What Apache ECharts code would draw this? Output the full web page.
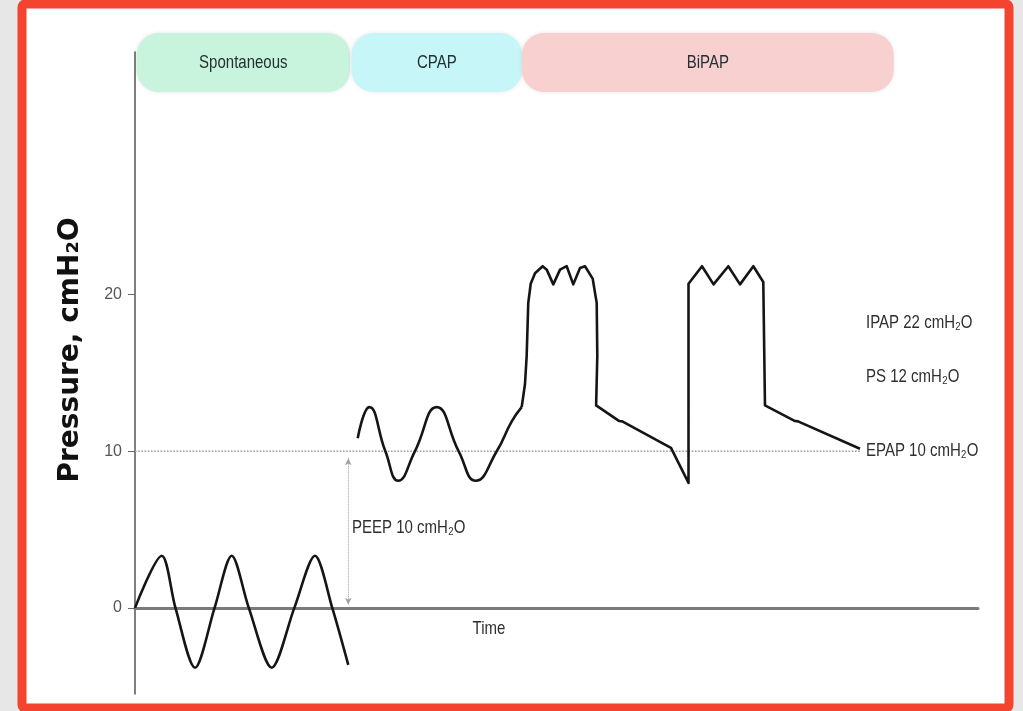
<!DOCTYPE html>
<html><head><meta charset="utf-8">
<script src="https://cdn.jsdelivr.net/npm/echarts@6/dist/echarts.min.js"></script>
<style>html,body{margin:0;padding:0;background:#e7e7e7;}#c{width:1023px;height:711px;}</style>
</head><body><div id="c"></div>
<script>
// ---- data (time in s, pressure in cmH2O) ----
const phases = ['Spontaneous', 'CPAP', 'BiPAP'];
const phaseStart = [0.02, 2.57, 4.59];
const phaseEnd = [2.55, 4.59, 9.0];
const phaseColors = ['#c8f3dc', '#c7f6f9', '#f8d0d0'];
const yTicks = [0, 10, 20];
const spontaneous = [[0,0],[0.317,3.33],[0.48,0],[0.712,-3.82],[0.944,0],[1.147,3.33],[1.35,0],[1.622,-3.82],[1.89,0],[2.135,3.33],[2.34,0],[2.53,-3.64]];
const cpap = [[2.642,10.83],[2.779,12.82],[2.97,10],[3.123,8.12],[3.32,10],[3.579,12.82],[3.84,10],[4.042,8.12],[4.291,10],[4.469,11.91],[4.587,12.82]];
const bipap = [[4.587,12.82],[4.626,14.28],[4.646,16.08],[4.665,19.46],[4.694,20.70],[4.745,21.37],[4.836,21.82],[4.884,21.60],[4.962,20.66],[5.042,21.60],[5.121,21.82],[5.199,20.66],[5.279,21.71],[5.338,21.82],[5.429,21.03],[5.477,19.46],[5.484,16.08],[5.47,12.93],[5.745,11.93],[5.78,11.91],[5.765,11.80],[6.358,10.22],[6.566,7.98],[6.566,20.70],[6.726,21.82],[6.863,20.66],[7.038,21.82],[7.177,20.66],[7.335,21.82],[7.453,20.81],[7.473,12.93],[7.83,11.93],[7.865,11.91],[7.85,11.80],[8.600,10.16]];
const baseline = [[0,10],[8.6,10]];
const peepArrow = [[2.53,9.55],[2.53,0.2]];
const annotations = ['IPAP 22 cmH₂O', 'PS 12 cmH₂O', 'EPAP 10 cmH₂O', 'PEEP 10 cmH₂O'];

const SANS = '"Liberation Sans",Arial,sans-serif';
const chart = echarts.init(document.getElementById('c'));
const waveStyle = {color: '#151515', width: 2.6};
chart.setOption({
  animation: false,
  backgroundColor: '#e7e7e7',
  grid: {left: 135, right: 45, top: 52, bottom: 17},
  xAxis: {type: 'value', min: 0, max: 10,
    axisLine: {onZero: true, lineStyle: {color: '#7a7a7a', width: 3}},
    axisTick: {show: false}, axisLabel: {show: false}, splitLine: {show: false}},
  yAxis: {type: 'value', min: -5.5, max: 35.5,
    axisLine: {show: true, lineStyle: {color: '#555', width: 1.5}},
    axisTick: {show: true, customValues: yTicks, length: 7, lineStyle: {color: '#666'}},
    axisLabel: {customValues: yTicks, fontSize: 16, color: '#555', margin: 13, fontFamily: SANS},
    splitLine: {show: false}},
  series: [
    {type: 'line', data: baseline, symbol: 'none', z: 1,
      lineStyle: {color: '#9a9a9a', width: 1.6, type: 'dotted'},
      markLine: {silent: true, symbol: ['arrow', 'arrow'], symbolSize: [5, 7],
        lineStyle: {color: '#a0a0a0', width: 1, type: 'dotted'}, label: {show: false},
        data: [[{coord: peepArrow[0]}, {coord: peepArrow[1]}]]}},
    {type: 'line', data: spontaneous, symbol: 'none', smooth: 0.3, lineStyle: waveStyle},
    {type: 'line', data: cpap, symbol: 'none', smooth: 0.5, lineStyle: waveStyle},
    {type: 'line', data: bipap, symbol: 'none', smooth: false, lineStyle: Object.assign({join: 'round'}, waveStyle)}
  ]
});

const g = [];
g.push({type: 'rect', z: -100, shape: {x: 22, y: 4, width: 987, height: 704, r: 3},
  style: {fill: '#ffffff', stroke: '#f4432f', lineWidth: 9}});
function narrowText(t, x, y, align, size, color) {
  return {type: 'text', z: 6, x: x, y: y, scaleX: 0.79,
    style: {text: t, fill: color || '#2f2f2f', font: size + 'px ' + SANS, textAlign: align, textVerticalAlign: 'middle'}};
}
phases.forEach((p, i) => {
  const x0 = chart.convertToPixel({gridIndex: 0}, [phaseStart[i], 0])[0];
  const x1 = chart.convertToPixel({gridIndex: 0}, [phaseEnd[i], 0])[0];
  g.push({type: 'rect', z: 5, shape: {x: x0, y: 33, width: x1 - x0, height: 59, r: 22},
    style: {fill: phaseColors[i], shadowBlur: 4, shadowColor: 'rgba(0,0,0,0.10)'}});
  g.push(narrowText(p, (x0 + x1) / 2, 63, 'center', 19, '#223232'));
});
g.push({type: 'text', z: 6, x: 71, y: 350, rotation: Math.PI / 2,
  style: {text: 'Pressure, cmH₂O', fill: '#111', font: 'bold 28px "DejaVu Sans",sans-serif', textAlign: 'center', textVerticalAlign: 'middle'}});
g.push(narrowText('Time', 489, 629, 'center', 19));
const annPos = [[866, 323], [866, 377], [866, 451], [352, 528]];
annotations.forEach((t, i) => g.push(narrowText(t, annPos[i][0], annPos[i][1], 'left', 19)));
chart.setOption({graphic: g});
</script></body></html>
